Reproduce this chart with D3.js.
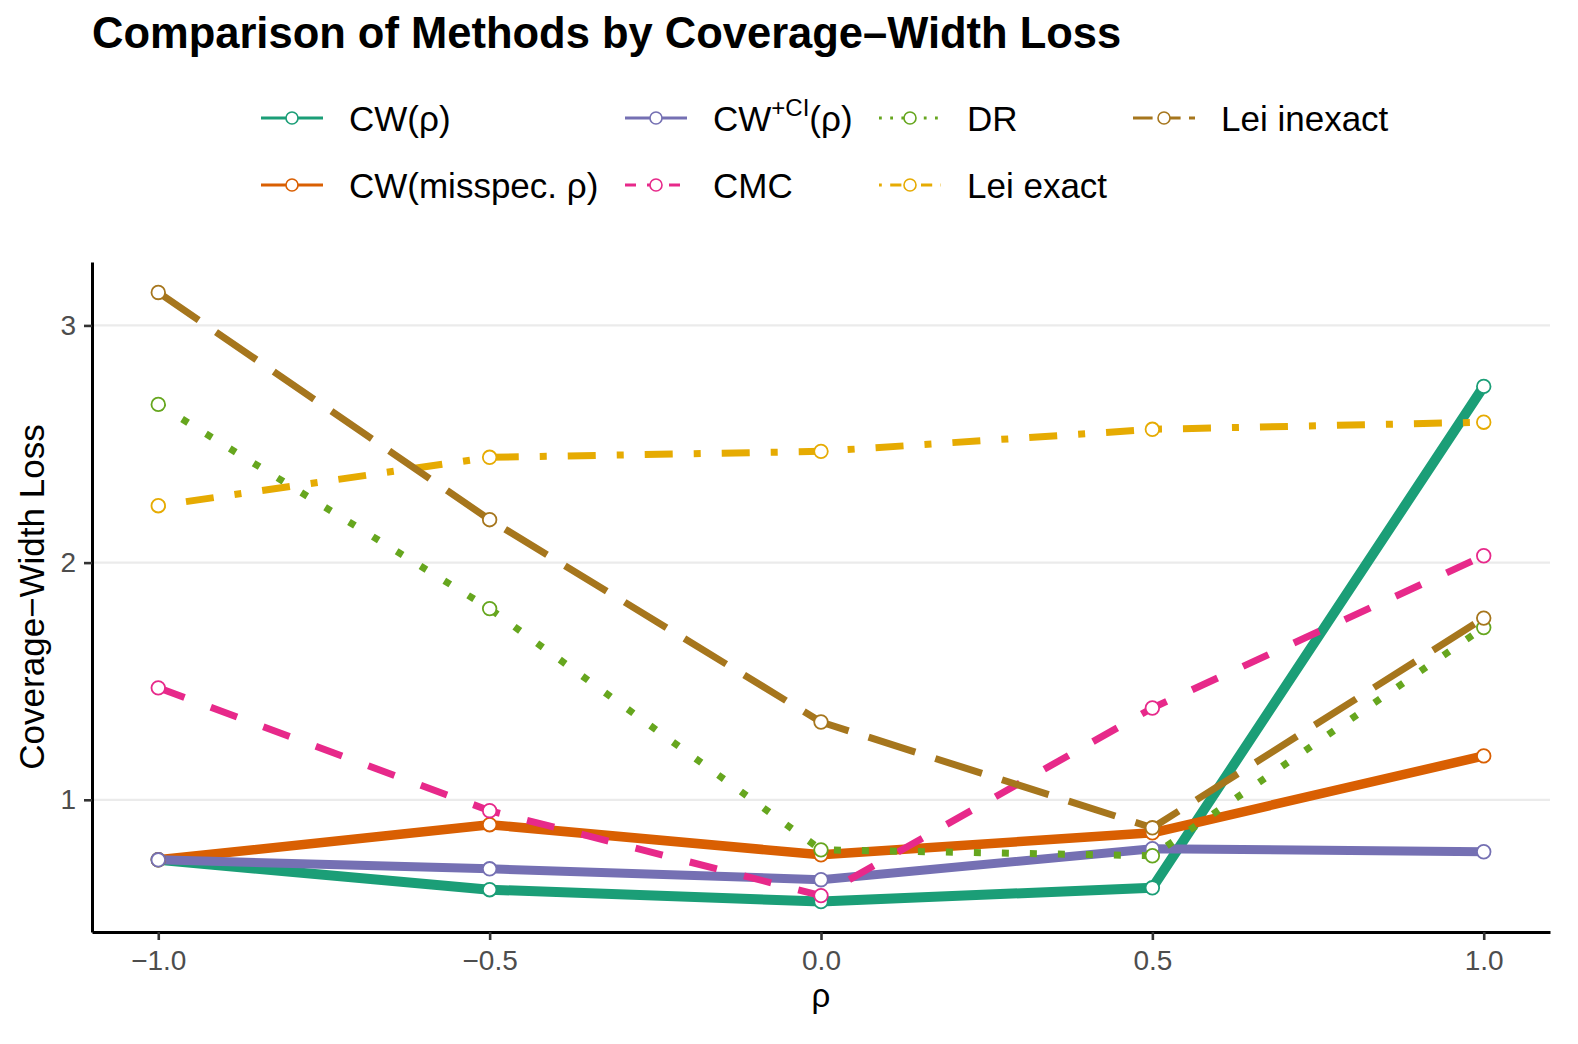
<!DOCTYPE html>
<html><head><meta charset="utf-8">
<script src="https://cdn.jsdelivr.net/npm/d3@7"></script>
<style>body{margin:0;background:#fff;} text{font-family:"Liberation Sans",Arial,sans-serif;}</style>
</head><body>
<svg id="c" width="1578" height="1044"></svg>
<script>
const rho = [-1.0, -0.5, 0.0, 0.5, 1.0];
const methods = ["CW(ρ)", "CW(misspec. ρ)", "CW+CI(ρ)", "CMC", "DR", "Lei exact", "Lei inexact"];
const cwRho      = [0.747, 0.621, 0.571, 0.629, 2.743];
const cwMisspec  = [0.747, 0.895, 0.768, 0.861, 1.185];
const cwCI       = [0.747, 0.709, 0.663, 0.794, 0.781];
const cmc        = [1.472, 0.954, 0.596, 1.387, 2.029];
const dr         = [2.667, 1.806, 0.789, 0.764, 1.726];
const leiExact   = [2.240, 2.444, 2.469, 2.562, 2.592];
const leiInexact = [3.139, 2.181, 1.328, 0.882, 1.766];
const seriesValues = [cwRho, cwMisspec, cwCI, cmc, dr, leiExact, leiInexact];
const xTicks = [-1.0, -0.5, 0.0, 0.5, 1.0];
const yTicks = [1, 2, 3];

const colors = ["#1B9E77", "#D95F02", "#7570B3", "#E7298A", "#66A61E", "#E6AB02", "#A6761D"];
const widths = [10, 9.5, 9, 7, 7, 7, 7];
const dashes = ["none", "none", "none", "28,28", "7,21", "7,21,28,21", "49,21"];
const klw = 2.8;
const kdashes = ["none", "none", "none", "11,11", "2.8,8.4", "2.8,8.4,11.2,8.4", "19.6,8.4"];

const svg = d3.select("#c");
const L = 92, R = 1550, T = 262, B = 932;
const x = d3.scaleLinear().domain([-1.1, 1.1]).range([L, R]);
const y = d3.scaleLinear().domain([0.4426, 3.2674]).range([B, T]);

// gridlines
svg.append("g").selectAll("line").data(yTicks).join("line")
  .attr("x1", L).attr("x2", R).attr("y1", d => y(d)).attr("y2", d => y(d))
  .attr("stroke", "#ebebeb").attr("stroke-width", 2.2);

const fmtX = d => (d < 0 ? "\u2212" : "") + Math.abs(d).toFixed(1);
const gx = svg.append("g").attr("transform", `translate(0,${B})`)
  .call(d3.axisBottom(x).tickValues(xTicks).tickFormat(fmtX).tickSize(8).tickPadding(10).tickSizeOuter(0));
const gy = svg.append("g").attr("transform", `translate(${L},0)`)
  .call(d3.axisLeft(y).tickValues(yTicks).tickFormat(d3.format("d")).tickSize(8).tickPadding(8).tickSizeOuter(0));
[gx, gy].forEach(g => {
  g.select(".domain").attr("stroke", "#000").attr("stroke-width", 3);
  g.selectAll(".tick line").attr("stroke", "#333").attr("stroke-width", 2.6);
  g.selectAll(".tick text").attr("fill", "#4d4d4d").attr("font-size", 28);
});

const data = methods.map((m, i) => ({name: m, color: colors[i], dash: dashes[i], w: widths[i],
  pts: rho.map((r, j) => ({x: r, y: seriesValues[i][j]}))}));

const line = d3.line().x(d => x(d.x)).y(d => y(d.y));
svg.append("g").selectAll("path").data(data).join("path")
  .attr("d", d => line(d.pts)).attr("fill", "none")
  .attr("stroke", d => d.color).attr("stroke-width", d => d.w)
  .attr("stroke-dasharray", d => d.dash).attr("stroke-linejoin", "round");

data.forEach(d => {
  svg.append("g").selectAll("circle").data(d.pts).join("circle")
    .attr("cx", p => x(p.x)).attr("cy", p => y(p.y)).attr("r", 6.8)
    .attr("fill", "#fff").attr("stroke", d.color).attr("stroke-width", 1.8);
});

// axis titles
svg.append("text").attr("x", (L + R) / 2).attr("y", 1007).attr("text-anchor", "middle")
  .attr("font-size", 33).text("ρ");
svg.append("text").attr("transform", `translate(44,${(T + B) / 2}) rotate(-90)`)
  .attr("text-anchor", "middle").attr("font-size", 35).text("Coverage\u2212Width Loss");

// title
svg.append("text").attr("x", 92).attr("y", 48).attr("font-size", 43.5).attr("font-weight", "bold")
  .text("Comparison of Methods by Coverage\u2013Width Loss");

// legend
const colX = [261, 625, 879, 1133];
const rowY = [118, 185];
const legendPos = [[0,0],[0,1],[1,0],[1,1],[2,0],[2,1],[3,0]];
data.forEach((d, i) => {
  const [c, r] = legendPos[i];
  const g = svg.append("g").attr("transform", `translate(${colX[c]},${rowY[r]})`);
  g.append("line").attr("x1", 0).attr("x2", 62).attr("y1", 0).attr("y2", 0)
    .attr("stroke", d.color).attr("stroke-width", klw).attr("stroke-dasharray", kdashes[i]);
  g.append("circle").attr("cx", 31).attr("cy", 0).attr("r", 6)
    .attr("fill", "#fff").attr("stroke", d.color).attr("stroke-width", 1.6);
  const t = g.append("text").attr("x", 88).attr("y", 12.5).attr("font-size", 35);
  if (d.name === "CW+CI(ρ)") {
    t.append("tspan").text("CW");
    t.append("tspan").attr("dy", -15).attr("font-size", 24).text("+CI");
    t.append("tspan").attr("dy", 15).text("(ρ)");
  } else {
    t.text(d.name);
  }
});
</script>
</body></html>
